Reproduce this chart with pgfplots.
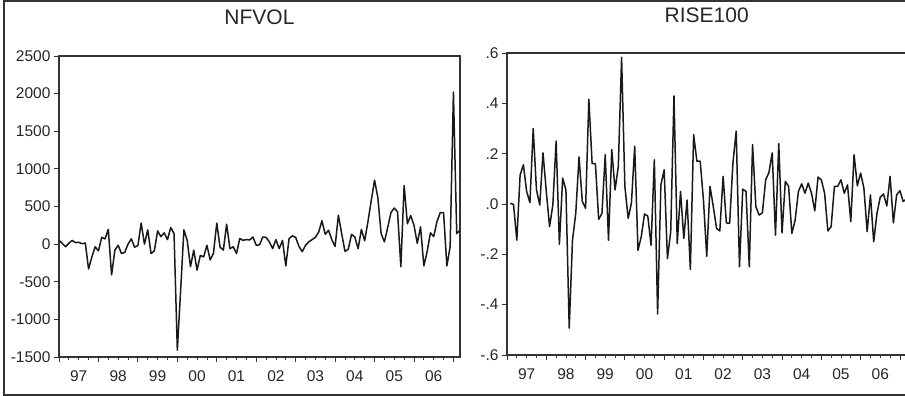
\documentclass[border=0pt]{standalone}
\usepackage{fontspec}
\setmainfont{Liberation Sans}
\usepackage{pgfplots}
\pgfplotsset{compat=1.18}
\pgfplotstableread{
i v
0 50
1 10
2 -35
3 10
4 50
5 20
6 25
7 5
8 15
9 -330
10 -170
11 -35
12 -90
13 90
14 70
15 195
16 -410
17 -80
18 -15
19 -125
20 -110
21 0
22 70
23 -40
24 -20
25 280
26 0
27 190
28 -125
29 -90
30 175
31 100
32 150
33 60
34 220
35 140
36 -1410
37 -620
38 190
39 50
40 -300
41 -80
42 -345
43 -150
44 -170
45 -15
46 -210
47 -120
48 280
49 -40
50 -80
51 265
52 -60
53 -35
54 -125
55 75
56 50
57 60
58 55
59 95
60 -15
61 -10
62 95
63 90
64 30
65 -60
66 60
67 -60
68 50
69 -290
70 75
71 110
72 90
73 -30
74 -100
75 -15
76 30
77 60
78 90
79 160
80 310
81 130
82 185
83 60
84 -30
85 385
86 140
87 -95
88 -70
89 130
90 95
91 -60
92 195
93 45
94 300
95 580
96 850
97 620
98 140
99 30
100 220
101 420
102 480
103 430
104 -300
105 780
106 270
107 380
108 250
109 10
110 230
111 -290
112 -100
113 150
114 100
115 300
116 420
117 420
118 -290
119 -35
120 2020
121 140
122 185
}\nfvol
\pgfplotstableread{
i v
1 0.003
2 -0.002
3 -0.144
4 0.115
5 0.156
6 0.05
7 0.005
8 0.30
9 0.056
10 -0.004
11 0.203
12 0.05
13 -0.09
14 -0.004
15 0.25
16 -0.16
17 0.103
18 0.056
19 -0.493
20 -0.144
21 -0.037
22 0.187
23 0.01
24 -0.017
25 0.416
26 0.16
27 0.16
28 -0.061
29 -0.037
30 0.196
31 -0.144
32 0.216
33 0.056
34 0.15
35 0.583
36 0.07
37 -0.057
38 0.003
39 0.23
40 -0.184
41 -0.13
42 -0.04
43 -0.048
44 -0.164
45 0.176
46 -0.437
47 0.076
48 0.136
49 -0.217
50 -0.11
51 0.43
52 -0.157
53 0.05
54 -0.137
55 0.016
56 -0.26
57 0.276
58 0.17
59 0.17
60 0.016
61 -0.208
62 0.07
63 -0.01
64 -0.097
65 -0.107
66 0.11
67 -0.075
68 -0.077
69 0.163
70 0.29
71 -0.25
72 0.059
73 0.05
74 -0.25
75 0.236
76 -0.01
77 -0.044
78 -0.035
79 0.096
80 0.125
81 0.203
82 -0.124
83 0.24
84 -0.115
85 0.09
86 0.07
87 -0.117
88 -0.064
89 0.05
90 0.08
91 0.043
92 0.083
93 0.043
94 -0.027
95 0.107
96 0.096
97 0.043
98 -0.107
99 -0.09
100 0.07
101 0.07
102 0.096
103 0.043
104 0.076
105 -0.07
106 0.196
107 0.072
108 0.123
109 0.063
110 -0.11
111 0.036
112 -0.15
113 -0.037
114 0.027
115 0.04
116 -0.008
117 0.11
118 -0.075
119 0.036
120 0.053
121 0.01
122 0.02
}\risehundred
\pgfplotsset{ev/.style={
  scale only axis, xmin=0,
  axis line style={line width=1.6pt, draw=black!80},
  tick style={line width=0.8pt, draw=black!80},
  tick align=outside, tick pos=left,
  xtick={0,12,...,120}, x tick label as interval,
  xticklabels={97,98,99,00,01,02,03,04,05,06},
  xticklabel style={yshift=-5pt},
  minor x tick num=3,
  major tick length=5pt, minor tick length=3pt,
  tick label style={font=\fontsize{15.5}{17}\selectfont, text=black!85},
  title style={font=\fontsize{21}{24}\selectfont, text=black!85, at={(0.5,1)}, anchor=center, yshift=33pt},
  /pgf/number format/assume math mode=true,
  clip=true,
}}
\begin{document}
\begin{tikzpicture}
\draw[line width=1.6pt, black!80] (4pt,1pt) rectangle (920pt,395pt);
\begin{axis}[ev, at={(59pt,39pt)}, anchor=south west, width=401pt, height=301pt,
  xmax=122,
  ymin=-1500, ymax=2500, ytick={-1500,-1000,...,2500},
  yticklabels={-1500,-1000,-500,0,500,1000,1500,2000,2500},
  title={NFVOL}]
\addplot[line width=1.5pt, black!90, line join=round] table[x=i,y=v] {\nfvol};
\end{axis}
\begin{axis}[ev, at={(507pt,41pt)}, anchor=south west, width=406pt, height=302pt,
  xmax=124,
  ymin=-0.6, ymax=0.6, ytick={-0.6,-0.4,...,0.61},
  yticklabels={-.6,-.4,-.2,.0,.2,.4,.6},
  title={RISE100}, title style={xshift=-3.3pt, yshift=-1pt}]
\addplot[line width=1.5pt, black!90, line join=round] table[x=i,y=v] {\risehundred};
\end{axis}
\pgfresetboundingbox
\useasboundingbox (0pt,0pt) rectangle (905pt,396pt);
\end{tikzpicture}
\end{document}
